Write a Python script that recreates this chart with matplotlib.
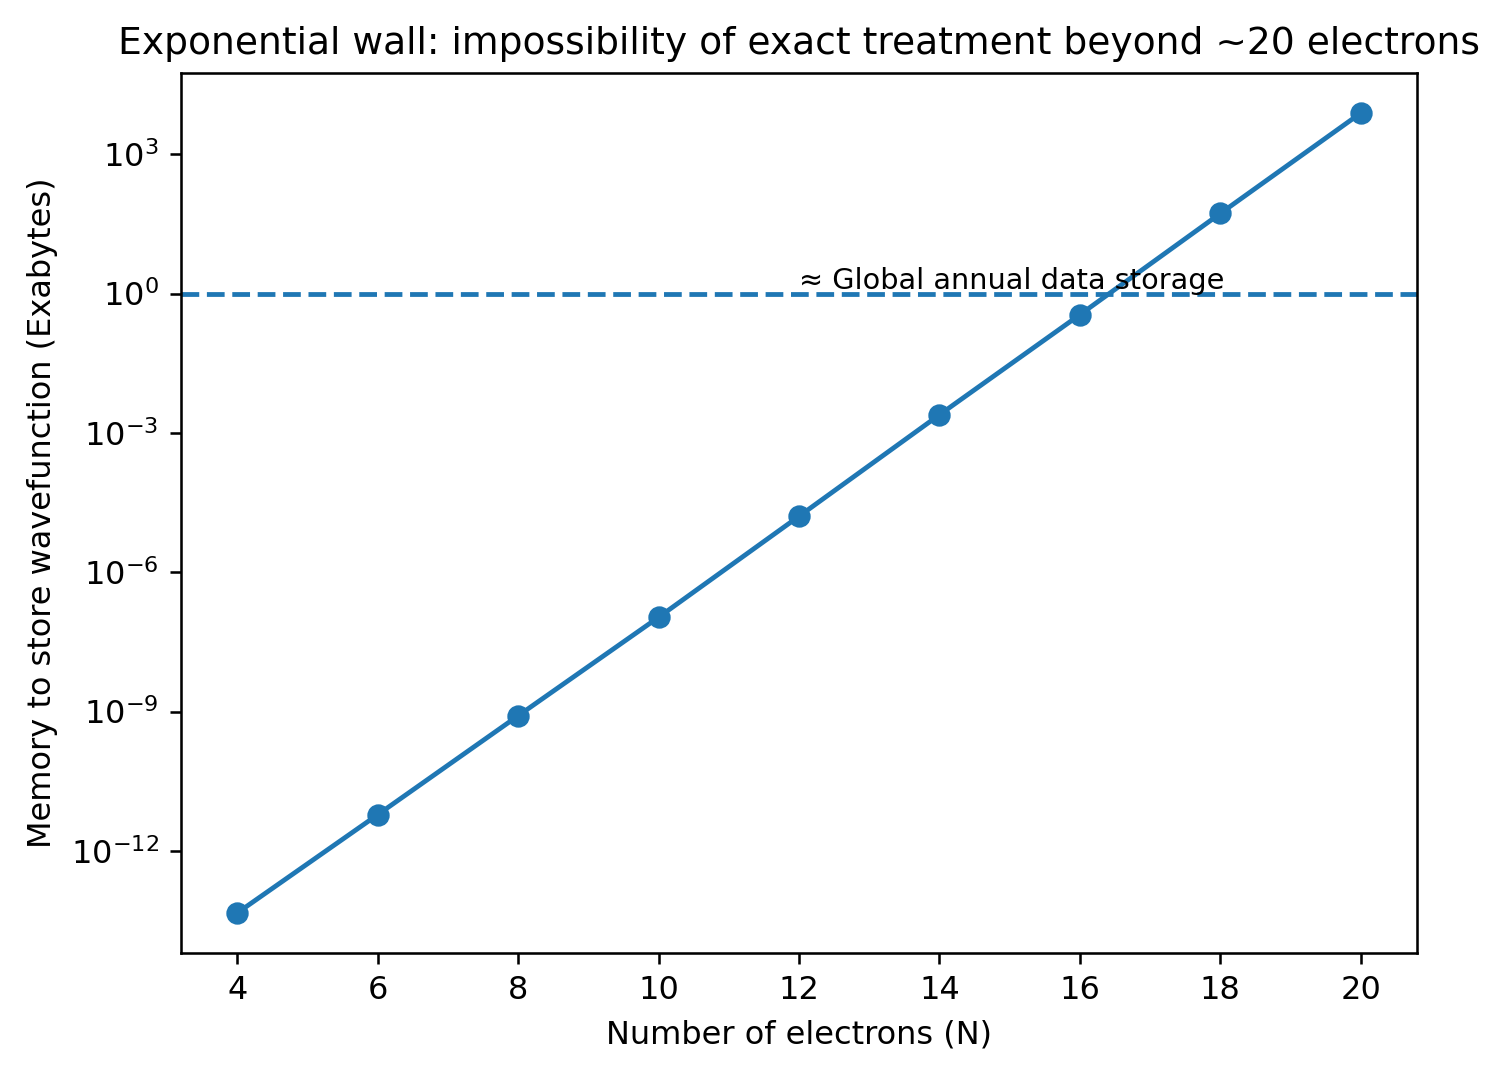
import matplotlib
matplotlib.use("Agg")
import matplotlib.pyplot as plt

# number of electrons and estimated storage (Exabytes)
electrons = [4, 6, 8, 10, 12, 14, 16, 18, 20]
memory_eb = [4.6e-14, 6.0e-12, 8.1e-10, 1.07e-7, 1.6e-5, 2.45e-3, 0.35, 53, 7700]

global_storage = 1.0
storage_label = "≈ Global annual data storage"
label_x = 12

fig = plt.figure(figsize=(1486 / 230, 1067 / 230), dpi=230)
ax = fig.add_axes([181 / 1486, 1 - 953 / 1067, (1417 - 181) / 1486, (953 - 73) / 1067])

ax.plot(electrons, memory_eb, marker='o')
ax.axhline(global_storage, linestyle='--')
ax.text(label_x, global_storage * 1.25, storage_label, fontsize=9)

ax.set_yscale('log')
ax.set_xticks(electrons)
ax.set_title("Exponential wall: impossibility of exact treatment beyond ~20 electrons", fontsize=11.8)
ax.set_xlabel("Number of electrons (N)")
ax.set_ylabel("Memory to store wavefunction (Exabytes)")

fig.savefig("out.png", dpi=230)
